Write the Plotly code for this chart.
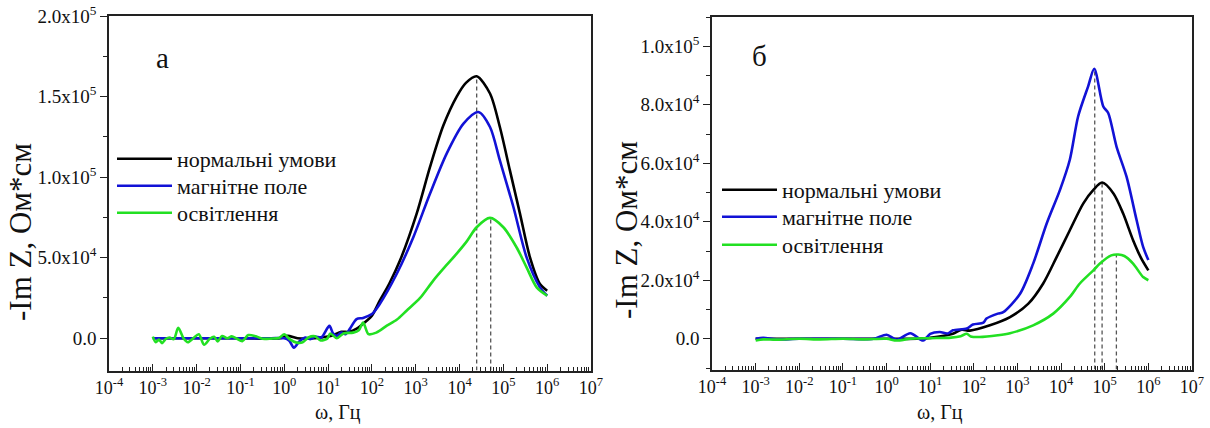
import plotly.graph_objects as go

# ---------------- Panel "a" data ----------------
fa_black = [0.001, 0.01, 0.1, 0.8, 1.2, 2.0, 5.0, 8.0, 12, 20, 30, 45, 76, 100, 151, 250, 437, 1047, 2113, 4266,
            8610, 14000, 24600, 49550, 83200, 141000, 240000, 405000, 684000, 1000000]
ya_black = [0, 0, 0, 0, 1500, 0, 0, 800, 1500, 4000, 4000, 6000, 10900, 14000, 23300, 34000, 48200, 77200, 106200, 132000,
            150000, 158500, 162600, 151900, 131100, 104200, 77200, 50200, 33700, 29500]

fa_blue = [0.001, 0.01, 0.1, 0.5, 1.0, 1.3, 1.66, 2.2, 3.0, 4.0, 5.0, 7.0, 10.7, 13, 15.8, 20, 25, 31.6, 44.7, 63, 100,
           151, 367, 881, 2113, 5082, 12300, 26900, 49550, 83200, 170000, 339000, 684000, 1000000]
ya_blue = [0, 0, 0, 0, 0, -1500, -5800, -2000, 500, -500, 1000, 500, 7700, 3000, 1500, 3500, 2500, 6000, 11900, 12600, 15000,
           21300, 39900, 62700, 89700, 114600, 133200, 140400, 131100, 110400, 81300, 50200, 31600, 26400]

fa_green = [0.001, 0.00117, 0.00138, 0.00162, 0.002, 0.0024, 0.00302, 0.0038, 0.00501, 0.00631, 0.00851, 0.0112,
            0.0148, 0.02, 0.0251, 0.0302, 0.038, 0.0501, 0.0631, 0.0832, 0.11, 0.151, 0.224, 0.316, 0.501, 0.759,
            1.0, 1.32, 1.91, 2.63, 3.55, 5.01, 6.76, 9.55, 11.2, 15.8, 22.4, 37.2, 50.1, 63.1, 83.2, 126, 219, 367,
            617, 1259, 2512, 5082, 8511, 14450, 24550, 49550, 100000, 199500, 338800, 575400, 1000000]
ya_green = [1000, -2500, -800, -3000, -300, 500, -500, 6500, 0, -2500, 200, 2500,
            -4000, -300, 900, -2000, 1400, 0, 1200, -300, -1800, 2000, 1200, -300, -200, 200,
            2500, -500, -2700, -2500, 500, 1200, -1300, -200, 3000, 0, 3000, 3500, 5000, 9800, 2600, 3500, 7800, 11500,
            17100, 25000, 35800, 45500, 52400, 60000, 68900, 74700, 68900, 56500, 44000, 31600, 26400]

# ---------------- Panel "б" data ----------------
fb_black = [0.001, 0.01, 0.1, 1.0, 5.0, 10, 33.1, 52.5, 81.3, 234, 676, 1778, 3890, 7943, 15850, 32360, 54950, 87100,
            158500, 263000, 446700, 691800, 1000000]
yb_black = [0, 0, 0, 0, 0, 300, 1700, 3100, 2800, 4600, 7400, 12000, 18900, 28000, 37100, 46300, 50900, 53400,
            49700, 42900, 33700, 27400, 23400]

fb_blue = [0.001, 0.0015, 0.003, 0.01, 0.1, 0.5, 1.0, 1.7, 3.5, 6.9, 10, 16.6, 25, 33.1, 69.2, 95.5, 166, 195, 355,
           473, 1148, 2291, 4677, 9441, 15850, 24550, 41690, 57540, 92680, 120200, 186200, 316200, 537000, 758600,
           1000000]
yb_blue = [0, 300, -200, 0, 0, 0, 1400, -300, 1900, -600, 1700, 2300, 1800, 2900, 3500, 4900, 5500, 6900, 8600,
           9100, 15400, 25700, 39400, 50900, 61200, 76000, 86300, 92300, 79400, 77200, 65700, 55400, 40600, 31400,
           26900]

fb_green = [0.001, 0.0015, 0.003, 0.01, 0.03, 0.1, 0.3, 1.0, 1.7, 3.5, 10, 30, 50, 69, 85, 135, 355, 676, 2291, 6607,
            15850, 26920, 54950, 77620, 141300, 204200, 281800, 446700, 758600, 1000000]
yb_green = [-600, -200, -300, 0, -200, 0, -200, 0, -600, 0, 200, 400, 900, 1700, 800, 600, 1200, 1900, 4600, 8600,
            14300, 18900, 23400, 25700, 28500, 28800, 28300, 25700, 21100, 20000]

# peak markers (dashed lines)
dash_fa = [24600, 51400]
dash_ya = [162600, 74700]
dash_fb = [59000, 87000, 185000]
dash_yb = [92300, 53400, 28800]

# tick labels
x_tickvals = [1e-4, 1e-3, 1e-2, 1e-1, 1e0, 1e1, 1e2, 1e3, 1e4, 1e5, 1e6, 1e7]
x_ticktext = ["10<sup>-4</sup>", "10<sup>-3</sup>", "10<sup>-2</sup>", "10<sup>-1</sup>", "10<sup>0</sup>",
              "10<sup>1</sup>", "10<sup>2</sup>", "10<sup>3</sup>", "10<sup>4</sup>", "10<sup>5</sup>",
              "10<sup>6</sup>", "10<sup>7</sup>"]
ya_tickvals = [0, 50000, 100000, 150000, 200000]
ya_ticktext = ["0.0", "5.0x10<sup>4</sup>", "1.0x10<sup>5</sup>", "1.5x10<sup>5</sup>", "2.0x10<sup>5</sup>"]
yb_tickvals = [0, 20000, 40000, 60000, 80000, 100000]
yb_ticktext = ["0.0", "2.0x10<sup>4</sup>", "4.0x10<sup>4</sup>", "6.0x10<sup>4</sup>", "8.0x10<sup>4</sup>",
               "1.0x10<sup>5</sup>"]

names = ["нормальні умови", "магнітне поле", "освітлення"]
colors = ["#000000", "#1212d6", "#22e022"]

FONT = "Liberation Serif, Times New Roman, serif"
W, H = 1210, 428

fig = go.Figure()

# dashed peak lines
for f, top in zip(dash_fa, dash_ya):
    fig.add_trace(go.Scatter(x=[f, f], y=[-20000, top], mode="lines", xaxis="x", yaxis="y",
                             line=dict(color="#555555", width=1.3, dash="4px,3px"),
                             showlegend=False, hoverinfo="skip"))
for f, top in zip(dash_fb, dash_yb):
    fig.add_trace(go.Scatter(x=[f, f], y=[-10500, top], mode="lines", xaxis="x2", yaxis="y2",
                             line=dict(color="#555555", width=1.3, dash="4px,3px"),
                             showlegend=False, hoverinfo="skip"))

# one single-entry legend per series so each row can be placed exactly
leg_a = ["legend", "legend2", "legend3"]
leg_b = ["legend4", "legend5", "legend6"]
for (fx, fy), name, col, lg in zip([(fa_black, ya_black), (fa_blue, ya_blue), (fa_green, ya_green)], names, colors, leg_a):
    fig.add_trace(go.Scatter(x=fx, y=fy, mode="lines", name=name, xaxis="x", yaxis="y", legend=lg,
                             line=dict(color=col, width=2.6, shape="spline", smoothing=0.8)))
for (fx, fy), name, col, lg in zip([(fb_black, yb_black), (fb_blue, yb_blue), (fb_green, yb_green)], names, colors, leg_b):
    fig.add_trace(go.Scatter(x=fx, y=fy, mode="lines", name=name, xaxis="x2", yaxis="y2", legend=lg,
                             line=dict(color=col, width=2.6, shape="spline", smoothing=0.8)))

minor_x = [m * 10.0 ** e for e in range(-4, 7) for m in range(2, 10)]

def xaxis_style(domain, anchor):
    return dict(type="log", range=[-4, 7], domain=domain, anchor=anchor, automargin=False,
                tickmode="array", tickvals=x_tickvals, ticktext=x_ticktext,
                ticks="inside", ticklen=7, tickwidth=1.4, tickcolor="#222",
                minor=dict(tickmode="array", tickvals=minor_x, ticks="inside", ticklen=4,
                           tickwidth=1, tickcolor="#222"),
                showline=True, linecolor="#222", linewidth=1.6, mirror=True,
                showgrid=False, zeroline=False,
                tickfont=dict(family=FONT, size=18, color="#111"))

def yaxis_style(domain, anchor, rng, tv, tt, minor_dt):
    return dict(range=rng, domain=domain, anchor=anchor, automargin=False,
                tickmode="array", tickvals=tv, ticktext=tt,
                ticks="outside", ticklen=7, tickwidth=1.4, tickcolor="#222",
                minor=dict(dtick=minor_dt, tick0=minor_dt, ticks="outside", ticklen=4,
                           tickwidth=1, tickcolor="#222"),
                showline=True, linecolor="#222", linewidth=1.6, mirror=True,
                showgrid=False, zeroline=False,
                tickfont=dict(family=FONT, size=19, color="#111"))

def legend_style(x, y):
    return dict(x=x / W, y=1 - y / H, xanchor="left", yanchor="middle", bgcolor="rgba(0,0,0,0)",
                font=dict(family=FONT, size=22, color="#111"), itemwidth=55, tracegroupgap=0)

fig.update_layout(
    width=W, height=H,
    margin=dict(l=0, r=0, t=0, b=0, pad=0, autoexpand=False),
    paper_bgcolor="white", plot_bgcolor="white",
    font=dict(family=FONT, color="#111"),
    xaxis=xaxis_style([109 / W, 591 / W], "y"),
    yaxis=yaxis_style([1 - 370.5 / H, 1 - 16 / H], "x", [-20000, 200000], ya_tickvals, ya_ticktext, 25000),
    xaxis2=xaxis_style([712 / W, 1192 / W], "y2"),
    yaxis2=yaxis_style([1 - 369.5 / H, 1 - 17 / H], "x2", [-10500, 110000], yb_tickvals, yb_ticktext, 10000),
    legend=legend_style(112, 159),
    legend2=legend_style(112, 186),
    legend3=legend_style(112, 213),
    legend4=legend_style(717, 190),
    legend5=legend_style(717, 217),
    legend6=legend_style(717, 245),
    showlegend=True,
)

def ann(text, x, y, size, angle=0):
    return dict(text=text, x=x / W, y=1 - y / H, xref="paper", yref="paper", showarrow=False,
                xanchor="center", yanchor="middle", textangle=angle,
                font=dict(family=FONT, size=size, color="#111"))

annotations = [
    ann("a", 162, 58, 29),
    ann("б", 759, 56, 29),
    ann("ω, Гц", 338, 412, 20),
    ann("ω, Гц", 940, 412, 20),
    ann("-Im Z, Ом*см", 21, 232, 31, -90),
    ann("-Im Z, Ом*см", 626, 230, 31, -90),
]
fig.update_layout(annotations=annotations)

fig.write_html("out.html", config={"displayModeBar": False},
               post_script="document.body.style.margin='0px'; document.body.style.overflow='hidden';")
